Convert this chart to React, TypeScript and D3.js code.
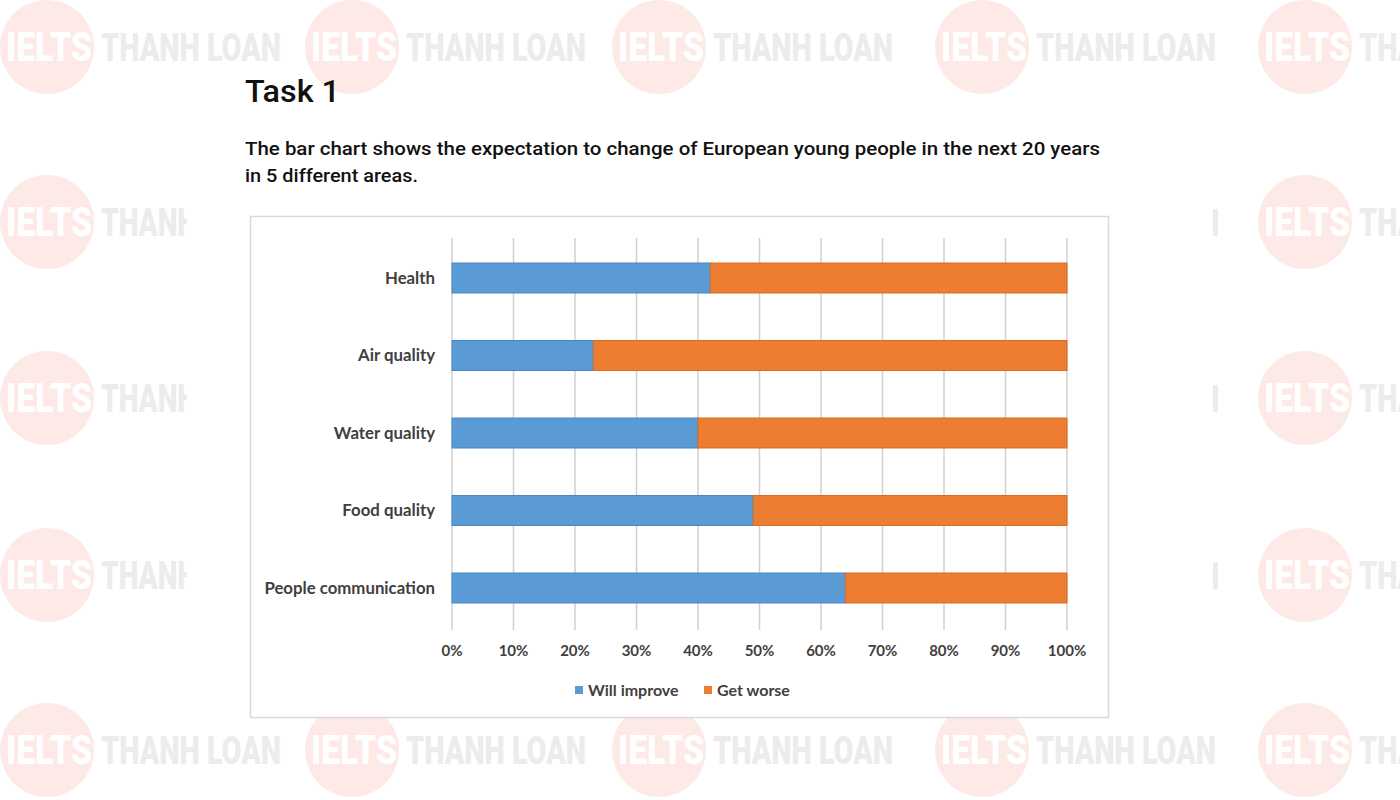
import React from "react";
import * as d3 from "d3";

const categories = ["Health", "Air quality", "Water quality", "Food quality", "People communication"];
const willImprove = [42, 23, 40, 49, 64];
const getWorse = [58, 77, 60, 51, 36];
const seriesNames = ["Will improve", "Get worse"];
const seriesColors = ["#5b9bd5", "#ed7d31"];
const seriesStroke = ["#4a87c0", "#d96d24"];
const xTicks = [0, 10, 20, 30, 40, 50, 60, 70, 80, 90, 100];

const wmFullRows = [47, 750];
const wmSideRows = [222, 398, 575];
const wmCols = [0, 305, 612, 935, 1258];

function Watermark({ x, y, word = "THANH LOAN", wordLen = 180 }: { x: number; y: number; word?: string; wordLen?: number }) {
  return (
    <g transform={`translate(${x},${y})`}>
      <circle cx={47} cy={0} r={47} fill="#fde9e6" />
      <text x={6} y={14} fontFamily="Roboto, sans-serif" fontWeight={900} fontSize={40}
        fill="#ffffff" textLength={86} lengthAdjust="spacingAndGlyphs">IELTS</text>
      <text x={101} y={14} fontFamily="Roboto, sans-serif" fontWeight={900} fontSize={38}
        fill="#ececec" textLength={wordLen} lengthAdjust="spacingAndGlyphs">{word}</text>
    </g>
  );
}

export default function App() {
  const W = 1400, H = 800;
  const x = d3.scaleLinear().domain([0, 100]).range([452, 1067]);
  const y = d3.scaleBand<string>().domain(categories).range([239.25, 626.75]).paddingInner(0.613).paddingOuter(0.3065);
  const stacked = d3.stack<number>().keys(["0", "1"]).value((i, k) => (k === "0" ? willImprove[i] : getWorse[i]))(
    d3.range(categories.length)
  );
  const bw = y.bandwidth();
  return (
    <svg width={W} height={H} style={{ position: "absolute", left: 0, top: 0, background: "#fff" }}>
      <defs>
        <clipPath id="sides">
          <rect x={0} y={0} width={187} height={H} />
          <rect x={1213} y={0} width={187} height={H} />
        </clipPath>
        <clipPath id="page">
          <rect x={0} y={0} width={W} height={H} />
        </clipPath>
      </defs>
      <rect x={0} y={0} width={W} height={H} fill="#fff" />
      <g clipPath="url(#page)">
        {wmFullRows.map((ry) => wmCols.map((cx) => <Watermark key={`${ry}-${cx}`} x={cx} y={ry} />))}
        <g clipPath="url(#sides)">
          {wmSideRows.map((ry) => (
            <g key={ry}>
              <Watermark x={0} y={ry} word="THANH" wordLen={96} />
              <Watermark x={1258} y={ry} />
              <rect x={1213} y={ry - 13} width={5} height={27} fill="#ececec" />
            </g>
          ))}
        </g>
      </g>

      <text x={245} y={102} fontFamily="Roboto, sans-serif" fontWeight={500} fontSize={32} fill="#111"
        textLength={95} lengthAdjust="spacingAndGlyphs">Task 1</text>
      <text x={245} y={155} fontFamily="Roboto, sans-serif" fontWeight={500} fontSize={18} fill="#111"
        textLength={855} lengthAdjust="spacingAndGlyphs">The bar chart shows the expectation to change of European young people in the next 20 years</text>
      <text x={245} y={182} fontFamily="Roboto, sans-serif" fontWeight={500} fontSize={18} fill="#111"
        textLength={173} lengthAdjust="spacingAndGlyphs">in 5 different areas.</text>

      <rect x={250.5} y={216.5} width={858} height={501} fill="#fff" stroke="#d9d9d9" strokeWidth={1.5} />

      {xTicks.map((t) => (
        <line key={t} x1={x(t)} x2={x(t)} y1={238} y2={630} stroke="#d0d0d0" strokeWidth={1.5} />
      ))}

      {stacked.map((s, si) =>
        s.map((d, i) => (
          <rect key={`${si}-${i}`} x={x(d[0])} y={y(categories[i])!} width={x(d[1]) - x(d[0])} height={bw}
            fill={seriesColors[si]} stroke={seriesStroke[si]} strokeWidth={1} />
        ))
      )}

      {categories.map((c) => (
        <text key={c} x={435} y={y(c)! + bw / 2} dy="0.35em" textAnchor="end" fontFamily="Lato, sans-serif"
          fontWeight={700} fontSize={16.8} fill="#404040">{c}</text>
      ))}

      {xTicks.map((t) => (
        <text key={t} x={x(t)} y={656} textAnchor="middle" fontFamily="Lato, sans-serif" fontWeight={700}
          fontSize={15} fill="#404040">{`${t}%`}</text>
      ))}

      {seriesNames.map((n, i) => {
        const lx = [575, 704][i];
        return (
          <g key={n}>
            <rect x={lx} y={686} width={8} height={8} fill={seriesColors[i]} />
            <text x={lx + 13} y={695.5} fontFamily="Lato, sans-serif" fontWeight={700} fontSize={16} fill="#404040">{n}</text>
          </g>
        );
      })}
    </svg>
  );
}
